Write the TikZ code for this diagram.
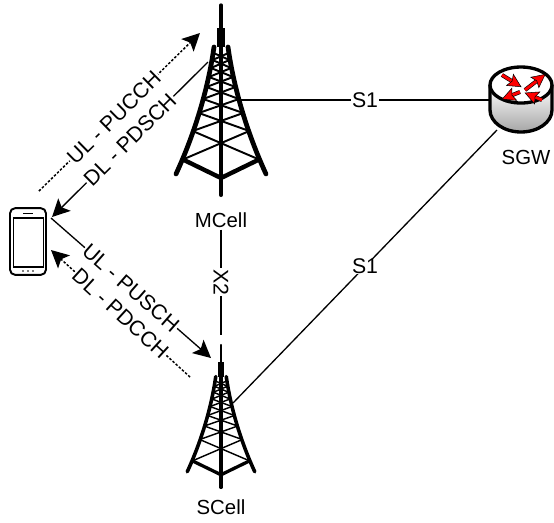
\documentclass[tikz,border=0pt]{standalone}
\usepackage{fontspec}
\setmainfont{Liberation Sans}
\usepackage{tikz}
\usetikzlibrary{arrows.meta}
\tikzset{
    link/.style={line width=0.75pt},
    dotlink/.style={line width=0.85pt,dash pattern=on 1.4pt off 1pt},
    bigtip/.style={-{Stealth[length=10pt,width=10pt,inset=2.2pt]}},
    chan/.style={fill=white,inner xsep=0.5pt,inner ysep=0pt,font=\fontsize{12.1}{13}\selectfont},
    celltext/.style={font=\fontsize{11.6}{13}\selectfont,inner sep=1pt},
}
\def\leghalf#1{(7+38*((#1-42)/127)^1.4)}
% one mast, top at the origin; #1 is the size, also applied to the pens
\newcommand{\mast}[1]{
    \draw[line width=#1*1.9pt,line cap=round] (0,0) -- (0,30);
    \draw[line width=#1*4.6pt] (0,23) -- (0,42);
    \draw[line width=#1*2.3pt,line cap=round] (0,38) -- (0,190);
    \draw[line width=#1*2.7pt,line cap=round] (-7,42) .. controls (-13,85) and (-27,130) .. (-45,169);
    \draw[line width=#1*2.7pt,line cap=round] (7,42) .. controls (13,85) and (27,130) .. (45,169);
    \draw[line width=#1*2.5pt] (-37,155) -- (0,173) -- (37,155);
    \foreach \ya/\yb in {155/126,126/108,108/94,94/82,82/72,72/63,63/55,55/48}{
        \pgfmathsetmacro{\wa}{\leghalf{\ya}}
        \pgfmathsetmacro{\wb}{\leghalf{\yb}}
        \draw[line width=#1*1.1pt] (-\wa,\ya) -- (\wb,\yb);
        \draw[line width=#1*1.1pt] (\wa,\ya) -- (-\wb,\yb);
    }
}
\begin{document}
\begin{tikzpicture}[x=0.02cm,y=-0.02cm]
    \useasboundingbox (0,0) rectangle (554,522);
    \begin{scope}[shift={(221,5)}]
        \mast{1}
    \end{scope}
    \begin{scope}[shift={(221,345)},scale=0.75]
        \mast{0.75}
    \end{scope}

    \node[celltext] (mcell) at (221,220) {MCell};
    \node[celltext] (scell) at (221,507) {SCell};
    \node[celltext] (sgw) at (526,157) {SGW};

    % router
    \shade[top color=white,bottom color=black!35,draw=black,line width=1.9pt]
        (490,85) -- (490,110) arc[start angle=180,end angle=0,x radius=31,y radius=22] -- (552,85);
    \draw[line width=1.9pt,fill=white] (521,85) ellipse[x radius=31,y radius=18];
    \foreach \xa/\ya/\xb/\yb in {502/75/523/88,525/90/547/73,520/92/500/100,542/100/523/92}{
        \draw[line width=2.3pt,shorten >=5pt] (\xa,\ya) -- (\xb,\yb);
        \draw[red,line width=1.6pt,shorten >=1pt,-{Stealth[length=8pt,width=8pt,inset=1.5pt,color=black,fill=red,line width=0.3pt]}] (\xa,\ya) -- (\xb,\yb);
    }
    \coordinate (sgwa) at (490,100);
    \coordinate (sgwb) at (497,130);

    % handset
    \node[draw,line width=1.1pt,rounded corners=3pt,minimum width=20.5pt,minimum height=38pt,inner sep=0pt] (ue) at (28,241.5) {};
    \draw[line width=1pt] (13.5,218) rectangle (43.5,267);
    \draw[line width=1.1pt] (23,213.5) -- (33,213.5);
    \foreach \x in {23,28,33}{\fill (\x,271) circle[radius=0.9];}

    \coordinate (mcs1) at (240,100);
    \coordinate (scs1) at (233,403);
    \coordinate (scx2) at (221,335);
    \coordinate (ulca) at (39,191);
    \coordinate (ulcb) at (200,33);
    \coordinate (dlsa) at (208,62);
    \coordinate (dlsb) at (52,217);
    \coordinate (ulsa) at (51,218);
    \coordinate (ulsb) at (211,358);
    \coordinate (dlca) at (190,377);
    \coordinate (dlcb) at (51,250);

    \draw[link] (mcs1) -- node[chan,midway] {S1} (sgwa);
    \draw[link] (scs1) -- node[chan,midway] {S1} (sgwb);
    \draw[link] (mcell) -- node[chan,midway,rotate=-90] {X2} (scx2);
    \draw[dotlink,bigtip] (ulca) -- node[chan,pos=0.465,sloped,solid] {UL - PUCCH} (ulcb);
    \draw[link,bigtip] (dlsa) -- node[chan,midway,sloped] {DL - PDSCH} (dlsb);
    \draw[link,bigtip] (ulsa) -- node[chan,midway,sloped] {UL - PUSCH} (ulsb);
    \draw[dotlink,bigtip] (dlca) -- node[chan,midway,sloped,solid] {DL - PDCCH} (dlcb);
\end{tikzpicture}
\end{document}
